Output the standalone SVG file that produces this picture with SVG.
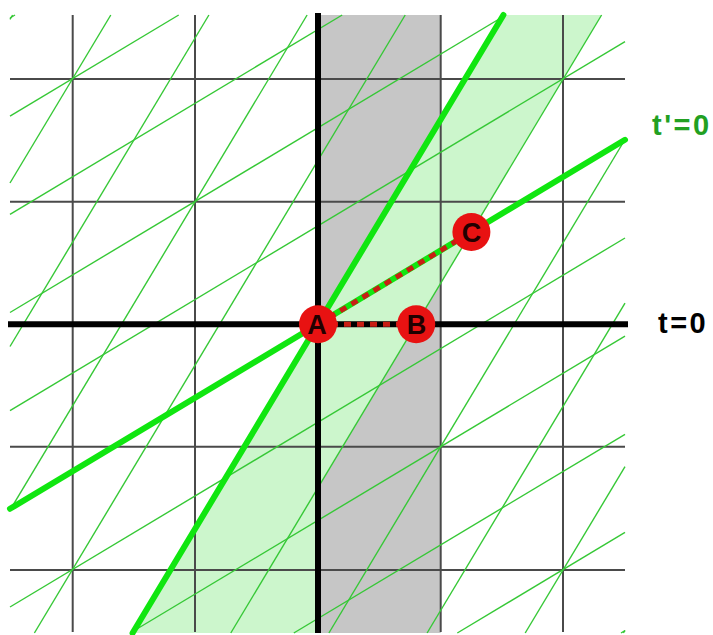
<svg xmlns="http://www.w3.org/2000/svg" width="713" height="635" viewBox="0 0 713 635">
<style>
.grid{stroke:#4a4a4a;stroke-width:2;fill:none}
.axis{stroke:#000;stroke-width:6;fill:none}
.thin{stroke:#36c836;stroke-width:1.4;fill:none}
.thick{stroke:#10e610;stroke-width:6;stroke-linecap:round;fill:none}
.dot{stroke:#c81e14;stroke-width:5;stroke-dasharray:7 6;fill:none}
.pt{fill:#e81212}
.lbl{font-family:"Liberation Sans",Arial,sans-serif;font-weight:bold;font-size:27px;fill:#220000;text-anchor:middle}
.ax{font-family:"Liberation Sans",Arial,sans-serif;font-weight:bold;font-size:29px;letter-spacing:2.5px}
</style>
<rect width="713" height="635" fill="#fff"/>
<g id="shading">
<rect x="318" y="15" width="122.7" height="618" fill="#c6c6c6"/>
<polygon points="503.4,15 601.6,15 318,487.7 318,633 132.6,633" fill="#ccf6cc"/>
</g>
<g id="grid">
<line class="grid" x1="72.7" y1="15" x2="72.7" y2="632"/>
<line class="grid" x1="195" y1="15" x2="195" y2="632"/>
<line class="grid" x1="440.7" y1="15" x2="440.7" y2="632"/>
<line class="grid" x1="563" y1="15" x2="563" y2="632"/>
<line class="grid" x1="10" y1="79" x2="625" y2="79"/>
<line class="grid" x1="10" y1="201.7" x2="625" y2="201.7"/>
<line class="grid" x1="10" y1="446.7" x2="625" y2="446.7"/>
<line class="grid" x1="10" y1="570" x2="625" y2="570"/>
</g>
<g id="primed-grid">
<line class="thin" x1="12.6" y1="15" x2="10" y2="19.3"/>
<line class="thin" x1="110.8" y1="15" x2="10" y2="183"/>
<line class="thin" x1="208.9" y1="15" x2="10" y2="346.5"/>
<line class="thin" x1="307.1" y1="15" x2="10" y2="510.2"/>
<line class="thin" x1="405.2" y1="15" x2="34.4" y2="633"/>
<line class="thin" x1="601.6" y1="15" x2="230.8" y2="633"/>
<line class="thin" x1="625" y1="139.5" x2="328.9" y2="633"/>
<line class="thin" x1="625" y1="303.2" x2="427.1" y2="633"/>
<line class="thin" x1="625" y1="466.7" x2="525.2" y2="633"/>
<line class="thin" x1="625" y1="630.3" x2="623.4" y2="633"/>
<line class="thin" x1="10" y1="410.6" x2="625" y2="41.6"/>
<line class="thin" x1="10" y1="312.5" x2="505.8" y2="15"/>
<line class="thin" x1="10" y1="214.3" x2="342.2" y2="15"/>
<line class="thin" x1="10" y1="116.2" x2="178.7" y2="15"/>
<line class="thin" x1="10" y1="18" x2="15" y2="15"/>
<line class="thin" x1="10" y1="607" x2="625" y2="238"/>
<line class="thin" x1="130.2" y1="633" x2="625" y2="336.1"/>
<line class="thin" x1="293.8" y1="633" x2="625" y2="434.3"/>
<line class="thin" x1="457.3" y1="633" x2="625" y2="532.4"/>
<line class="thin" x1="621" y1="633" x2="625" y2="630.6"/>
</g>
<g id="primed-axes">
<line class="thick" x1="503.4" y1="15" x2="132.6" y2="633"/>
<line class="thick" x1="10" y1="508.8" x2="625" y2="139.8"/>
</g>
<g id="axes">
<line class="axis" x1="318" y1="13" x2="318" y2="633"/>
<line class="axis" x1="8" y1="324.3" x2="628" y2="324.3"/>
</g>
<g id="connectors">
<line class="dot" x1="318" y1="324.3" x2="416.2" y2="324.3"/>
<line class="dot" x1="318" y1="324.3" x2="471.4" y2="232"/>
</g>
<g id="A"><circle class="pt" cx="318" cy="324.3" r="19"/><text class="lbl" x="317" y="334">A</text></g>
<g id="B"><circle class="pt" cx="416.2" cy="324.3" r="19"/><text class="lbl" x="416.5" y="334">B</text></g>
<g id="C"><circle class="pt" cx="471.4" cy="232" r="19"/><text class="lbl" x="471.5" y="241.7">C</text></g>
<g id="labels">
<text class="ax" x="652" y="135" fill="#22a022">t'=0</text>
<text class="ax" x="658" y="333" fill="#000">t=0</text>
</g>
</svg>
